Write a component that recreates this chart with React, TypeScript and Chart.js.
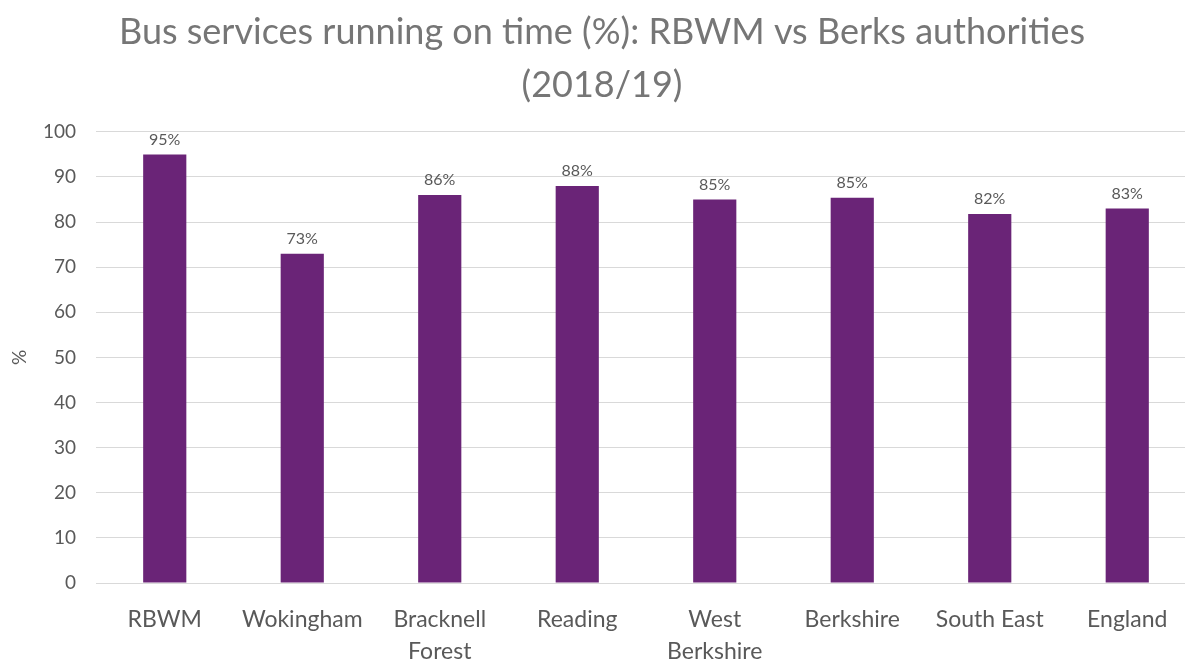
import React, { useEffect, useRef } from "react";
import { Chart, registerables } from "chart.js";

Chart.register(...registerables);

const categories: (string | string[])[] = [
  "RBWM",
  "Wokingham",
  ["Bracknell", "Forest"],
  "Reading",
  ["West", "Berkshire"],
  "Berkshire",
  "South East",
  "England",
];
const onTimeValues = [95, 73, 86, 88, 85, 85.4, 81.8, 83];
const yTicks = [0, 10, 20, 30, 40, 50, 60, 70, 80, 90, 100];
const titleLines = [
  "Bus services running on time (%): RBWM vs Berks authorities",
  "(2018/19)",
];

const FONT = "Lato, 'Open Sans', sans-serif";
const GREY = "#595959";

const dataLabelPlugin = {
  id: "dataLabels",
  afterDatasetsDraw(chart: any) {
    const ctx = chart.ctx;
    const meta = chart.getDatasetMeta(0);
    ctx.save();
    ctx.font = `16px ${FONT}`;
    ctx.fillStyle = GREY;
    ctx.textAlign = "center";
    ctx.textBaseline = "bottom";
    meta.data.forEach((bar: any, i: number) => {
      const v = onTimeValues[i];
      ctx.fillText(`${Math.round(v)}%`, bar.x, bar.y - 7);
    });
    ctx.restore();
  },
};

export default function App() {
  const ref = useRef<HTMLCanvasElement>(null);
  useEffect(() => {
    document.body.style.margin = "0";
    const chart = new Chart(ref.current!, {
      type: "bar",
      data: {
        labels: categories,
        datasets: [
          {
            data: onTimeValues,
            backgroundColor: "#6a2477",
            barPercentage: 0.314,
            categoryPercentage: 1,
          },
        ],
      },
      options: {
        responsive: false,
        animation: false,
        layout: { padding: { left: 8, right: 0, top: 0, bottom: 0 } },
        plugins: {
          legend: { display: false },
          tooltip: { enabled: false },
          title: {
            display: true,
            text: titleLines,
            color: "#767676",
            font: { family: FONT, size: 36, weight: "normal", lineHeight: 1.47 },
            padding: { top: 6, bottom: 20 },
          },
        },
        scales: {
          x: {
            afterFit: (axis: any) => {
              axis.height = 79;
            },
            grid: { display: false },
            border: { display: true, color: "#d9d9d9" },
            ticks: {
              color: GREY,
              font: { family: FONT, size: 23, lineHeight: 1.4 },
              maxRotation: 0,
              autoSkip: false,
              padding: 12,
            },
          },
          y: {
            min: 0,
            max: 100,
            afterFit: (axis: any) => {
              axis.width = 88;
            },
            afterBuildTicks: (axis: any) => {
              axis.ticks = yTicks.map((v) => ({ value: v }));
            },
            grid: { color: "#d9d9d9", drawTicks: false },
            border: { display: false },
            ticks: {
              color: GREY,
              font: { family: FONT, size: 19 },
              padding: 20,
            },
            title: {
              display: true,
              text: "%",
              color: GREY,
              font: { family: FONT, size: 19 },
              padding: { top: 0, bottom: 0 },
            },
          },
        },
      },
      plugins: [dataLabelPlugin],
    });
    return () => chart.destroy();
  }, []);
  return (
    <div style={{ width: 1185, height: 662, overflow: "hidden" }}>
      <canvas ref={ref} width={1196} height={662} />
    </div>
  );
}
